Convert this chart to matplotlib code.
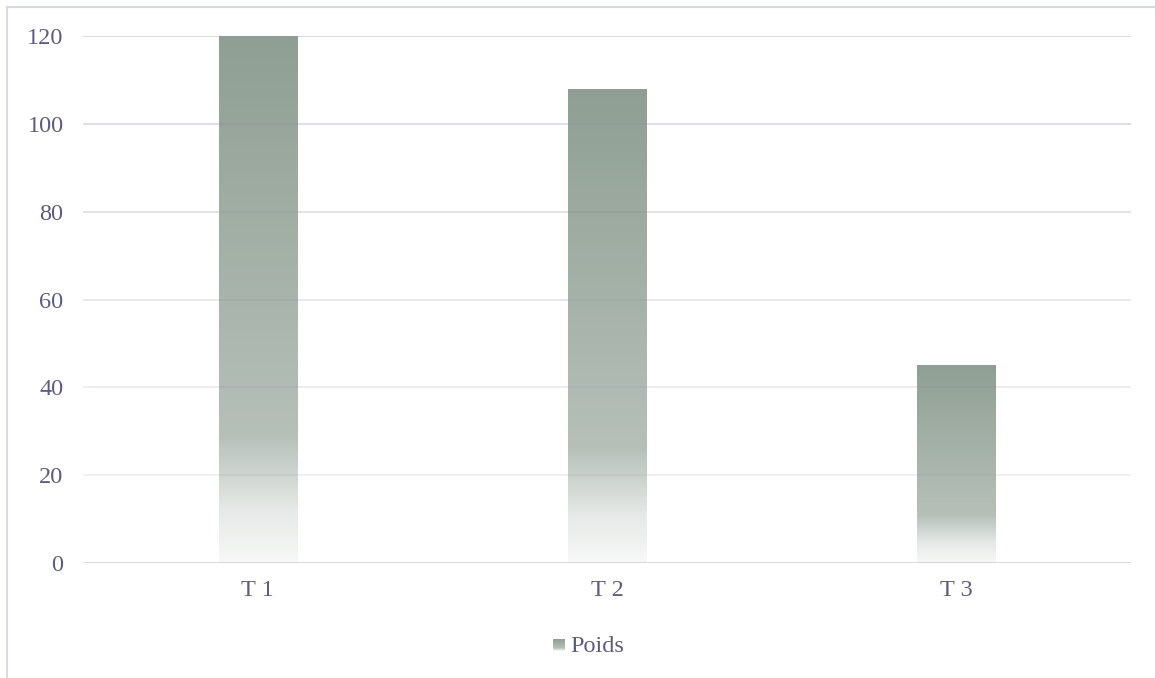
import matplotlib
matplotlib.use("Agg")
import matplotlib.pyplot as plt
import numpy as np
from matplotlib.colors import LinearSegmentedColormap
from matplotlib.lines import Line2D

plt.rcParams["font.family"] = ["Liberation Serif", "DejaVu Serif"]

categories = ["T 1", "T 2", "T 3"]
poids = [120, 108, 45]
y_ticks = [0, 20, 40, 60, 80, 100, 120]

W, H = 1155, 678
TEXT = "#5c5c7e"

# dégradé vertical des barres : vert-gris en haut, presque blanc en bas
degrade = LinearSegmentedColormap.from_list(
    "poids",
    [(0.0, "#8f9f93"), (0.76, "#b6c0b9"), (0.9, "#e6e9e7"), (1.0, "#f7f8f7")],
)
grad = np.linspace(0, 1, 256).reshape(-1, 1)

fig = plt.figure(figsize=(W / 100, H / 100), dpi=100)
ax = fig.add_axes([83 / W, 1 - 563 / H, (1131 - 83) / W, (563 - 36) / H])

x = np.arange(len(categories))
bars = ax.bar(x, poids, width=0.224, color="none", zorder=2)
for rect in bars:
    x0, y0 = rect.get_x(), rect.get_y()
    im = ax.imshow(grad, extent=(x0, x0 + rect.get_width(), y0, y0 + rect.get_height()),
                   aspect="auto", cmap=degrade, origin="upper", zorder=2)
    im.set_clip_path(rect)

# quadrillage : plus marqué en haut, plus clair vers le bas
for v in y_ticks[1:]:
    a = 0.16 + 0.24 * (v - 20) / 100
    ax.axhline(v, color="#8f8aa8", alpha=a, linewidth=1.1, zorder=3)
ax.axhline(0, color="#8f8aa8", alpha=0.32, linewidth=1.4, zorder=3)

ax.set_xlim(-0.5, len(categories) - 0.5)
ax.set_ylim(0, 120)
ax.set_yticks(y_ticks)
ax.set_xticks(x)
ax.set_xticklabels(categories)
ax.tick_params(axis="both", length=0, labelsize=17.5, labelcolor=TEXT)
ax.tick_params(axis="y", pad=14)
ax.tick_params(axis="x", pad=12)
for s in ax.spines.values():
    s.set_visible(False)

# légende
leg_ax = fig.add_axes([553 / W, 1 - 651 / H, 12 / W, 12 / H])
leg_ax.imshow(grad, aspect="auto", cmap=degrade)
leg_ax.axis("off")
fig.text(570 / W, 1 - 646 / H, "Poids", fontsize=17.5, color=TEXT,
         ha="left", va="center")

# cadre du graphique
bord = "#d9d9e3"
fig.add_artist(Line2D([7 / W, 7 / W], [0, 1 - 7 / H], color=bord, linewidth=1.5))
fig.add_artist(Line2D([7 / W, 1], [1 - 7 / H, 1 - 7 / H], color=bord, linewidth=1.5))

fig.savefig("out.png", dpi=100, facecolor="white")
